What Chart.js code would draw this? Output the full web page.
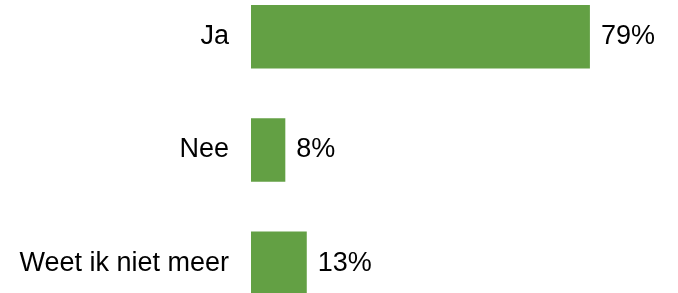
<!DOCTYPE html>
<html>
<head>
<meta charset="utf-8">
<script src="https://cdn.jsdelivr.net/npm/chart.js@4/dist/chart.umd.min.js"></script>
<style>
    html, body { margin: 0; padding: 0; background: #fff; overflow: hidden; width: 678px; height: 293px; }
    #wrap { position: absolute; left: 0; top: -20px; width: 680px; height: 340px; }
</style>
</head>
<body>
<div id="wrap"><canvas id="antwoordChart"></canvas></div>
<script>
const categories = ['Ja', 'Nee', 'Weet ik niet meer'];
const percentages = [79, 8, 13];

// labels rechts naast de balken
const valueLabels = {
    id: 'valueLabels',
    afterDatasetsDraw(chart) {
        const ctx = chart.ctx;
        const meta = chart.getDatasetMeta(0);
        ctx.save();
        ctx.font = '27px "Liberation Sans", Arial, sans-serif';
        ctx.fillStyle = '#000';
        ctx.textAlign = 'left';
        ctx.textBaseline = 'middle';
        meta.data.forEach((bar, i) => {
            ctx.fillText(percentages[i] + '%', bar.x + 11, bar.y);
        });
        ctx.restore();
    }
};

document.addEventListener("DOMContentLoaded", () => {
    const ctx = document.getElementById('antwoordChart').getContext('2d');
    new Chart(ctx, {
        type: 'bar',
        data: {
            labels: categories,
            datasets: [{
                data: percentages,
                backgroundColor: '#63A044',
                borderWidth: 0,
                categoryPercentage: 1,
                barPercentage: 0.56
            }]
        },
        options: {
            indexAxis: 'y',
            responsive: true,
            maintainAspectRatio: false,
            animation: false,
            layout: { padding: 0 },
            plugins: {
                legend: { display: false },
                tooltip: { enabled: false }
            },
            scales: {
                x: {
                    display: false,
                    min: 0,
                    max: 100
                },
                y: {
                    grid: { display: false, drawTicks: false },
                    border: { display: false },
                    ticks: {
                        padding: 22,
                        color: '#000',
                        font: { family: '"Liberation Sans", Arial, sans-serif', size: 27 }
                    },
                    afterFit(axis) {
                        axis.width = 251;
                        axis.paddingTop = 0;
                        axis.paddingBottom = 0;
                    }
                }
            }
        },
        plugins: [valueLabels]
    });
});
</script>
</body>
</html>
